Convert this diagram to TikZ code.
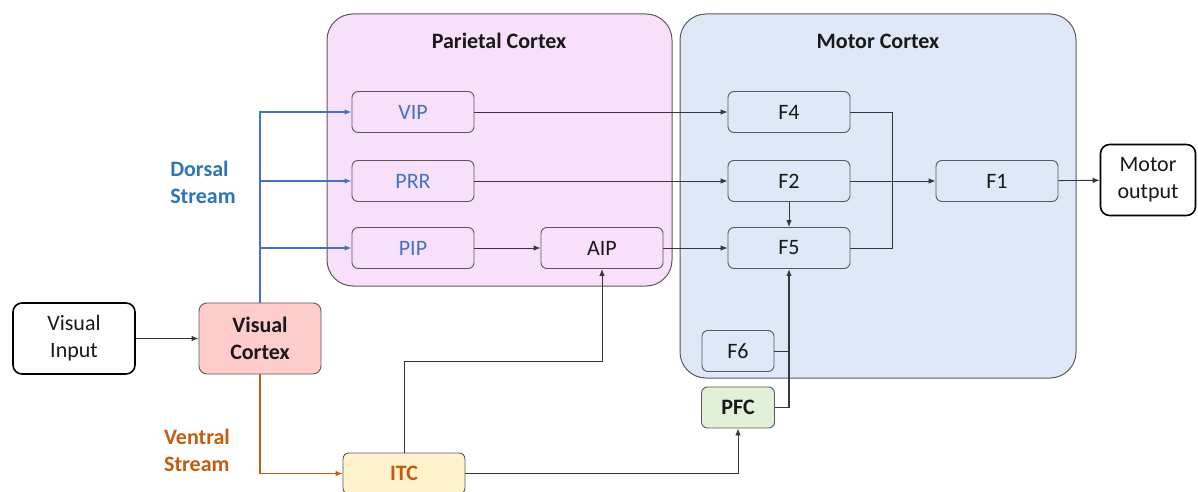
\documentclass[tikz,border=0pt]{standalone}
\usepackage{fontspec}
\setmainfont{Carlito}
\usetikzlibrary{arrows.meta,positioning}
\definecolor{parie}{RGB}{248,224,250}
\definecolor{motor}{RGB}{222,232,246}
\definecolor{vis}{RGB}{255,204,204}
\definecolor{itcfill}{RGB}{255,242,204}
\definecolor{pfcfill}{RGB}{226,239,217}
\definecolor{edge}{RGB}{89,89,89}
\definecolor{wire}{RGB}{55,55,55}
\definecolor{dorsal}{RGB}{68,114,196}
\definecolor{dorsaltxt}{RGB}{46,117,182}
\definecolor{ventral}{RGB}{197,90,17}
\definecolor{ink}{RGB}{25,25,25}
\tikzset{
  >={Latex[length=7pt,width=5.5pt]},
  area/.style={draw=edge,fill=#1,rounded corners=26pt,line width=1pt},
  area title/.style={font=\fontsize{22}{27}\selectfont\bfseries,text=ink},
  unit/.style={draw=edge,rounded corners=6pt,line width=0.9pt,minimum width=122pt,
    minimum height=41pt,inner sep=0pt,align=center,font=\fontsize{22}{27}\selectfont,text=#1},
  unit/.default=ink,
  io/.style={draw=black,fill=white,rounded corners=9pt,line width=1.6pt,minimum width=122pt,
    minimum height=71pt,inner sep=0pt,align=center,font=\fontsize{22}{27}\selectfont,text=ink},
  hub/.style={draw=edge,fill=#1,rounded corners=8pt,line width=0.9pt,minimum width=122pt,
    minimum height=71pt,inner sep=0pt,align=center,font=\fontsize{22}{27}\selectfont\bfseries,text=ink},
  stream/.style={font=\fontsize{22}{27}\selectfont\bfseries,text=#1,align=left},
  flow/.style={->,line width=0.9pt,draw=#1},
  flow/.default=wire,
}
\begin{document}
\begin{tikzpicture}[x=1pt,y=-1pt]
  \useasboundingbox (0,0) rectangle (1198,492);
  % cortex areas
  \draw[area=parie] (327,14) rectangle (672,286);
  \draw[area=motor] (680,14) rectangle (1076,378);
  \node[area title] (partitle) at (499,41) {Parietal Cortex};
  \node[area title] (mottitle) at (878,41) {Motor Cortex};
  % parietal units
  \foreach \n/\t/\y in {vip/VIP/112,prr/PRR/181,pip/PIP/248}
    \node[unit=dorsal] (\n) at (413,\y) {\t};
  \node[unit] (aip) at (602,248) {AIP};
  % motor units
  \foreach \n/\y in {4/112,2/181,5/248}
    \node[unit] (f\n) at (789,\y) {F\n};
  \node[unit] (f1) at (997,181) {F1};
  \node[unit,minimum width=72pt] (f6) at (738,351) {F6};
  % outside
  \node[io] (vi) at (74,338.5) {Visual\\Input};
  \node[io,minimum width=95pt] (mo) at (1148,180) {Motor\\output};
  \node[hub=vis] (vc) at (260,338.5) {Visual\\Cortex};
  \node[hub=itcfill,minimum height=41pt,rounded corners=6pt,text=ventral] (itc) at (404,473.5) {ITC};
  \node[hub=pfcfill,minimum width=73pt,minimum height=41pt,rounded corners=6pt] (pfc) at (738,407.5) {PFC};
  \node[stream=dorsaltxt] (dlab) at (203,182) {Dorsal\\Stream};
  \node[stream=ventral] (vlab) at (197,450) {Ventral\\Stream};
  % streams
  \foreach \n in {vip,prr,pip} \draw[flow=dorsal,line width=1.2pt] (vc.north) |- (\n.west);
  \draw[flow=ventral,line width=1.2pt] (vc.south) |- (itc.west);
  % connections
  \draw[flow] (vi) -- (vc);
  \draw[flow] (vip) -- (f4);
  \draw[flow] (prr) -- (f2);
  \draw[flow] (pip) -- (aip);
  \draw[flow] (aip) -- (f5);
  \draw[flow] (f2) -- (f1);
  \draw[flow] (f1) -- (mo);
  \draw[flow] (f2) -- (f5);
  \coordinate (merge) at (892,181);
  \draw[wire,line width=0.9pt] (f4.east) -| (merge) |- (f5.east);
  \draw[flow,line width=1.3pt] (pfc.east) -| (f5.south);
  \draw[wire,line width=0.9pt] (f6.east) -- (f6.east -| f5.south);
  \draw[flow] (itc.east) -| (pfc.south);
  \coordinate (itcup) at (404,361);
  \draw[flow] (itc.north) -- (itcup) -| (aip.south);
\end{tikzpicture}
\end{document}
